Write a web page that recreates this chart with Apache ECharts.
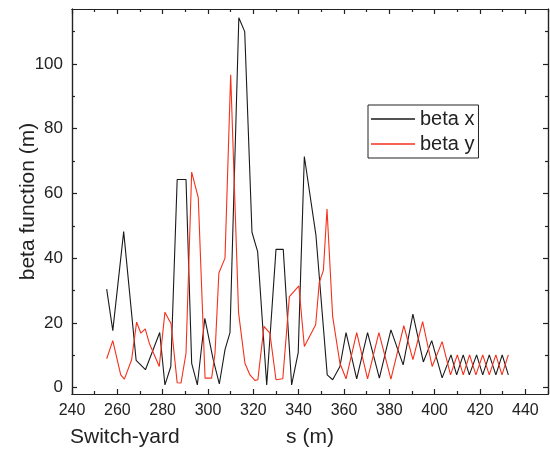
<!DOCTYPE html>
<html>
<head>
<meta charset="utf-8">
<script src="https://cdn.jsdelivr.net/npm/echarts@6/dist/echarts.min.js"></script>
<style>html,body{margin:0;padding:0;background:#fff;}#c{width:550px;height:455px;}</style>
</head>
<body>
<div id="c"></div>
<script>
// beta x (black)
const betaX_s = [255.3, 258.0, 262.8, 268.3, 272.4, 278.7, 281.0, 283.6, 286.4, 290.3, 292.8, 295.3, 298.6, 302.3, 305.0, 307.5, 309.7, 313.6, 316.2, 319.4, 321.9, 325.9, 330.0, 333.2, 336.9, 339.8, 342.5, 347.6, 352.6, 355.0, 358.2, 360.9, 365.6, 370.4, 375.6, 380.7, 386.1, 390.4, 395.0, 398.7, 403.3, 407.2, 409.7, 412.6, 415.3, 418.5, 421.2, 424.1, 427.0, 429.8, 432.5];
const betaX_v = [30.4, 17.6, 48.2, 8.4, 5.5, 17.0, 0.8, 6.5, 64.3, 64.3, 7.5, 0.8, 21.4, 8.6, 1.1, 11.7, 17.0, 114.3, 110.0, 48.0, 42.0, 0.8, 42.7, 42.7, 0.8, 10.8, 71.4, 47.2, 3.9, 2.4, 6.5, 17.0, 2.7, 17.0, 2.9, 17.8, 7.0, 22.7, 7.9, 14.5, 3.0, 10.1, 3.9, 10.1, 3.9, 10.1, 3.9, 10.1, 3.9, 10.1, 3.9];
// beta y (red)
const betaY_s = [255.3, 258.0, 261.5, 263.1, 266.3, 268.5, 270.4, 272.3, 274.1, 278.5, 281.0, 283.7, 286.4, 288.1, 290.3, 292.8, 295.7, 298.7, 301.6, 303.1, 304.8, 307.5, 310.0, 313.5, 316.3, 318.5, 320.7, 322.0, 324.7, 327.3, 330.0, 333.0, 335.9, 340.1, 342.5, 347.5, 349.1, 350.9, 352.5, 355.0, 358.2, 360.9, 365.6, 370.4, 375.4, 380.7, 386.4, 390.4, 394.7, 398.9, 403.3, 407.0, 410.0, 412.6, 415.4, 418.2, 421.2, 424.1, 427.0, 429.7, 432.5];
const betaY_v = [8.9, 14.5, 3.9, 2.6, 8.6, 20.2, 16.8, 18.1, 13.7, 6.5, 23.3, 19.7, 1.5, 1.4, 10.6, 66.6, 58.7, 2.9, 2.9, 10.6, 35.4, 40.0, 96.7, 23.0, 7.5, 3.9, 2.2, 2.4, 18.9, 16.8, 2.4, 2.7, 28.1, 31.4, 12.7, 19.4, 32.5, 36.2, 55.2, 21.9, 7.5, 2.7, 17.0, 2.7, 17.0, 2.6, 19.1, 8.6, 20.4, 6.5, 14.2, 3.9, 10.1, 3.9, 10.1, 3.9, 10.1, 3.9, 10.1, 3.9, 10.1];

const xMajor = [240, 260, 280, 300, 320, 340, 360, 380, 400, 420, 440];
const xMinor = [250, 270, 290, 310, 330, 350, 370, 390, 410, 430, 450];
const yMajor = [0, 20, 40, 60, 80, 100];
const yMinor = [10, 30, 50, 70, 90, 110];

const seriesNames = ['beta x', 'beta y'];
const xName = 's (m)';
const yName = 'beta function (m)';
const noteText = 'Switch-yard';

const FONT = 'Liberation Sans, Arial, sans-serif';
const TXT = '#222';
const AX = '#222';

function pairs(s, v) { return s.map((x, i) => [x, v[i]]); }

function xAx(pos, ticks, len, labels) {
  return {
    type: 'value', position: pos, min: 240, max: 450,
    axisLine: { show: true, onZero: false, lineStyle: { color: AX, width: 1.2 } },
    axisTick: { show: true, inside: true, length: len, customValues: ticks, lineStyle: { color: AX, width: 1.2 } },
    axisLabel: labels ? { show: true, customValues: ticks, fontFamily: FONT, fontSize: 16, color: TXT, margin: 9 } : { show: false },
    splitLine: { show: false }
  };
}
function yAx(pos, ticks, len, labels) {
  return {
    type: 'value', position: pos, min: -2, max: 117,
    axisLine: { show: true, onZero: false, lineStyle: { color: AX, width: 1.2 } },
    axisTick: { show: true, inside: true, length: len, customValues: ticks, lineStyle: { color: AX, width: 1.2 } },
    axisLabel: labels ? { show: true, customValues: ticks, fontFamily: FONT, fontSize: 17, color: TXT, margin: 9 } : { show: false },
    splitLine: { show: false }
  };
}

const xAxes = [xAx('bottom', xMajor, 5, true), xAx('bottom', xMinor, 3, false), xAx('top', xMajor, 5, false), xAx('top', xMinor, 3, false)];
Object.assign(xAxes[0], { name: xName, nameLocation: 'middle', nameGap: 33, nameMoveOverlap: false,
  nameTextStyle: { fontFamily: FONT, fontSize: 21, color: TXT } });
const yAxes = [yAx('left', yMajor, 5, true), yAx('left', yMinor, 3, false), yAx('right', yMajor, 5, false), yAx('right', yMinor, 3, false)];
Object.assign(yAxes[0], { name: yName, nameLocation: 'middle', nameGap: 33, nameMoveOverlap: false,
  nameTextStyle: { fontFamily: FONT, fontSize: 21, color: TXT } });

const chart = echarts.init(document.getElementById('c'), null, { renderer: 'canvas' });
chart.setOption({
  animation: false,
  backgroundColor: '#fff',
  grid: { left: 72, right: 2, top: 9, bottom: 61, containLabel: false, outerBoundsMode: 'none' },
  xAxis: xAxes,
  yAxis: yAxes,
  legend: {
    orient: 'vertical', left: 368, top: 105,
    data: seriesNames,
    icon: 'rect',
    borderColor: '#222', borderWidth: 1, borderRadius: 0,
    padding: [4, 4, 4, 3], itemGap: 5,
    itemWidth: 44, itemHeight: 1.3,
    textStyle: { fontFamily: FONT, fontSize: 20, color: TXT }
  },
  graphic: [{
    type: 'text', left: 70, top: 427,
    style: { text: noteText, fontFamily: FONT, fontSize: 21, fill: TXT }
  }],
  series: [
    { name: seriesNames[0], type: 'line', data: pairs(betaX_s, betaX_v), symbol: 'none', showSymbol: false,
      lineStyle: { color: '#1a1a1a', width: 1.1 }, itemStyle: { color: '#1a1a1a' } },
    { name: seriesNames[1], type: 'line', data: pairs(betaY_s, betaY_v), symbol: 'none', showSymbol: false,
      lineStyle: { color: '#f5301a', width: 1.1 }, itemStyle: { color: '#f5301a' } }
  ]
});
</script>
</body>
</html>
